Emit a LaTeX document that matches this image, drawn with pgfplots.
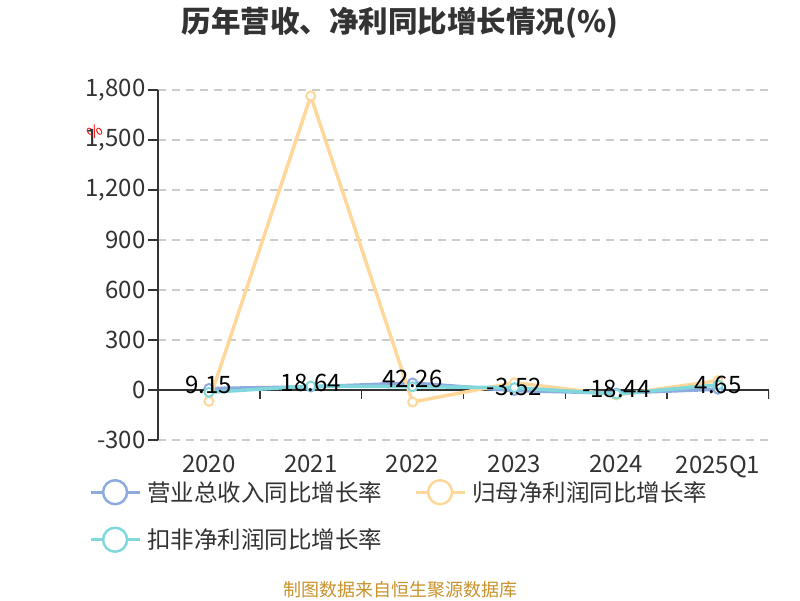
\documentclass[border=0pt]{standalone}
\usepackage{pgfplots}
\pgfplotsset{compat=1.18}
\usepackage{fontspec}
\setmainfont{Noto Sans CJK SC}

\definecolor{revblue}{HTML}{8EABDF}
\definecolor{netorange}{HTML}{FED89A}
\definecolor{dedcyan}{HTML}{80D8DC}
\definecolor{txtgray}{HTML}{333333}
\definecolor{gridgray}{HTML}{CCCCCC}
\definecolor{srcgold}{HTML}{C8922A}

% growth rates, %
\pgfplotstableread{
x rev net ded
0 9.15 -68 -14
1 18.64 1764 24
2 42.26 -72 20
3 -3.52 44 14
4 -18.44 -30 -24
5 4.65 56 30
}\growth

\begin{document}
\begin{tikzpicture}[x=1pt,y=1pt]
\useasboundingbox (0,0) rectangle (800,-600);
\node[font=\fontsize{29.5}{34}\selectfont\bfseries, text=txtgray] at (400,-23) {历年营收、净利同比增长情况(\%)};
\node[font=\fontsize{16}{18}\selectfont, text=red, rotate=30] at (95,-132) {\%};
\begin{axis}[
    at={(158pt,-440pt)}, anchor=south west,
    scale only axis, width=611pt, height=350pt,
    xmin=-0.5, xmax=5.5, ymin=-300, ymax=1800,
    xtick={0,...,5},
    xticklabels={2020,2021,2022,2023,2024,2025Q1},
    ytick={-300,0,300,600,900,1200,1500,1800},
    axis y line*=left, axis x line*=bottom,
    x axis line style={draw=none},
    y axis line style={draw=txtgray, line width=1.5pt},
    xtick style={draw=none},
    ytick style={draw=txtgray, line width=1.5pt},
    tick align=outside, major tick length=10pt,
    ymajorgrids,
    grid style={gridgray, line width=1.3pt, dash pattern=on 8pt off 6pt},
    tick label style={font=\fontsize{24}{28}\selectfont, text=txtgray},
    yticklabel style={xshift=1pt},
    xticklabel style={yshift=-2pt},
    /pgf/number format/assume math mode=true,
    /pgf/number format/1000 sep={,},
    legend columns=2,
    legend cell align=left,
    legend style={draw=none, fill=none, at={(-0.118,-0.105)}, anchor=north west,
        font=\fontsize{23.5}{28}\selectfont, text=txtgray,
        /tikz/every even column/.append style={column sep=26pt},
        row sep=21pt,
        nodes={inner xsep=6pt}},
    legend image code/.code={
        \draw[#1, line width=3pt] (0pt,0pt) -- (49pt,0pt);
        \draw[#1, fill=white, line width=2.5pt] (24.5pt,0pt) circle (12pt);
    },
]
\draw[txtgray, line width=1.5pt] (axis cs:-0.5,0) -- (axis cs:5.5,0);
\draw[txtgray, line width=1.5pt] (axis cs:0.5,0) -- ++(0pt,-9pt);
\draw[txtgray, line width=1.5pt] (axis cs:1.5,0) -- ++(0pt,-9pt);
\draw[txtgray, line width=1.5pt] (axis cs:2.5,0) -- ++(0pt,-9pt);
\draw[txtgray, line width=1.5pt] (axis cs:3.5,0) -- ++(0pt,-9pt);
\draw[txtgray, line width=1.5pt] (axis cs:4.5,0) -- ++(0pt,-9pt);
\draw[txtgray, line width=1.5pt] (axis cs:5.5,0) -- ++(0pt,-9pt);

\addplot[revblue, line width=3.5pt, mark=*, mark size=4.5pt,
    mark options={fill=white, draw=revblue, line width=2pt}]
    table[x=x, y=rev] {\growth};
\addlegendentry{营业总收入同比增长率}
\addplot[netorange, line width=3.5pt, mark=*, mark size=4.5pt,
    mark options={fill=white, draw=netorange, line width=2pt}]
    table[x=x, y=net] {\growth};
\addlegendentry{归母净利润同比增长率}
\addplot[dedcyan, line width=3.5pt, mark=*, mark size=4.5pt,
    mark options={fill=white, draw=dedcyan, line width=2pt}]
    table[x=x, y=ded] {\growth};
\addlegendentry{扣非净利润同比增长率}

% value labels of the revenue series, drawn on top
\addplot[draw=none, forget plot,
    nodes near coords,
    point meta=explicit symbolic,
    every node near coord/.append style={anchor=center, yshift=4pt,
        font=\fontsize{24}{28}\selectfont, text=black}]
    table[x=x, y=rev, meta=rev] {\growth};
\end{axis}
\node[font=\fontsize{18}{22}\selectfont, text=srcgold] at (400,-590) {制图数据来自恒生聚源数据库};
\end{tikzpicture}
\end{document}
